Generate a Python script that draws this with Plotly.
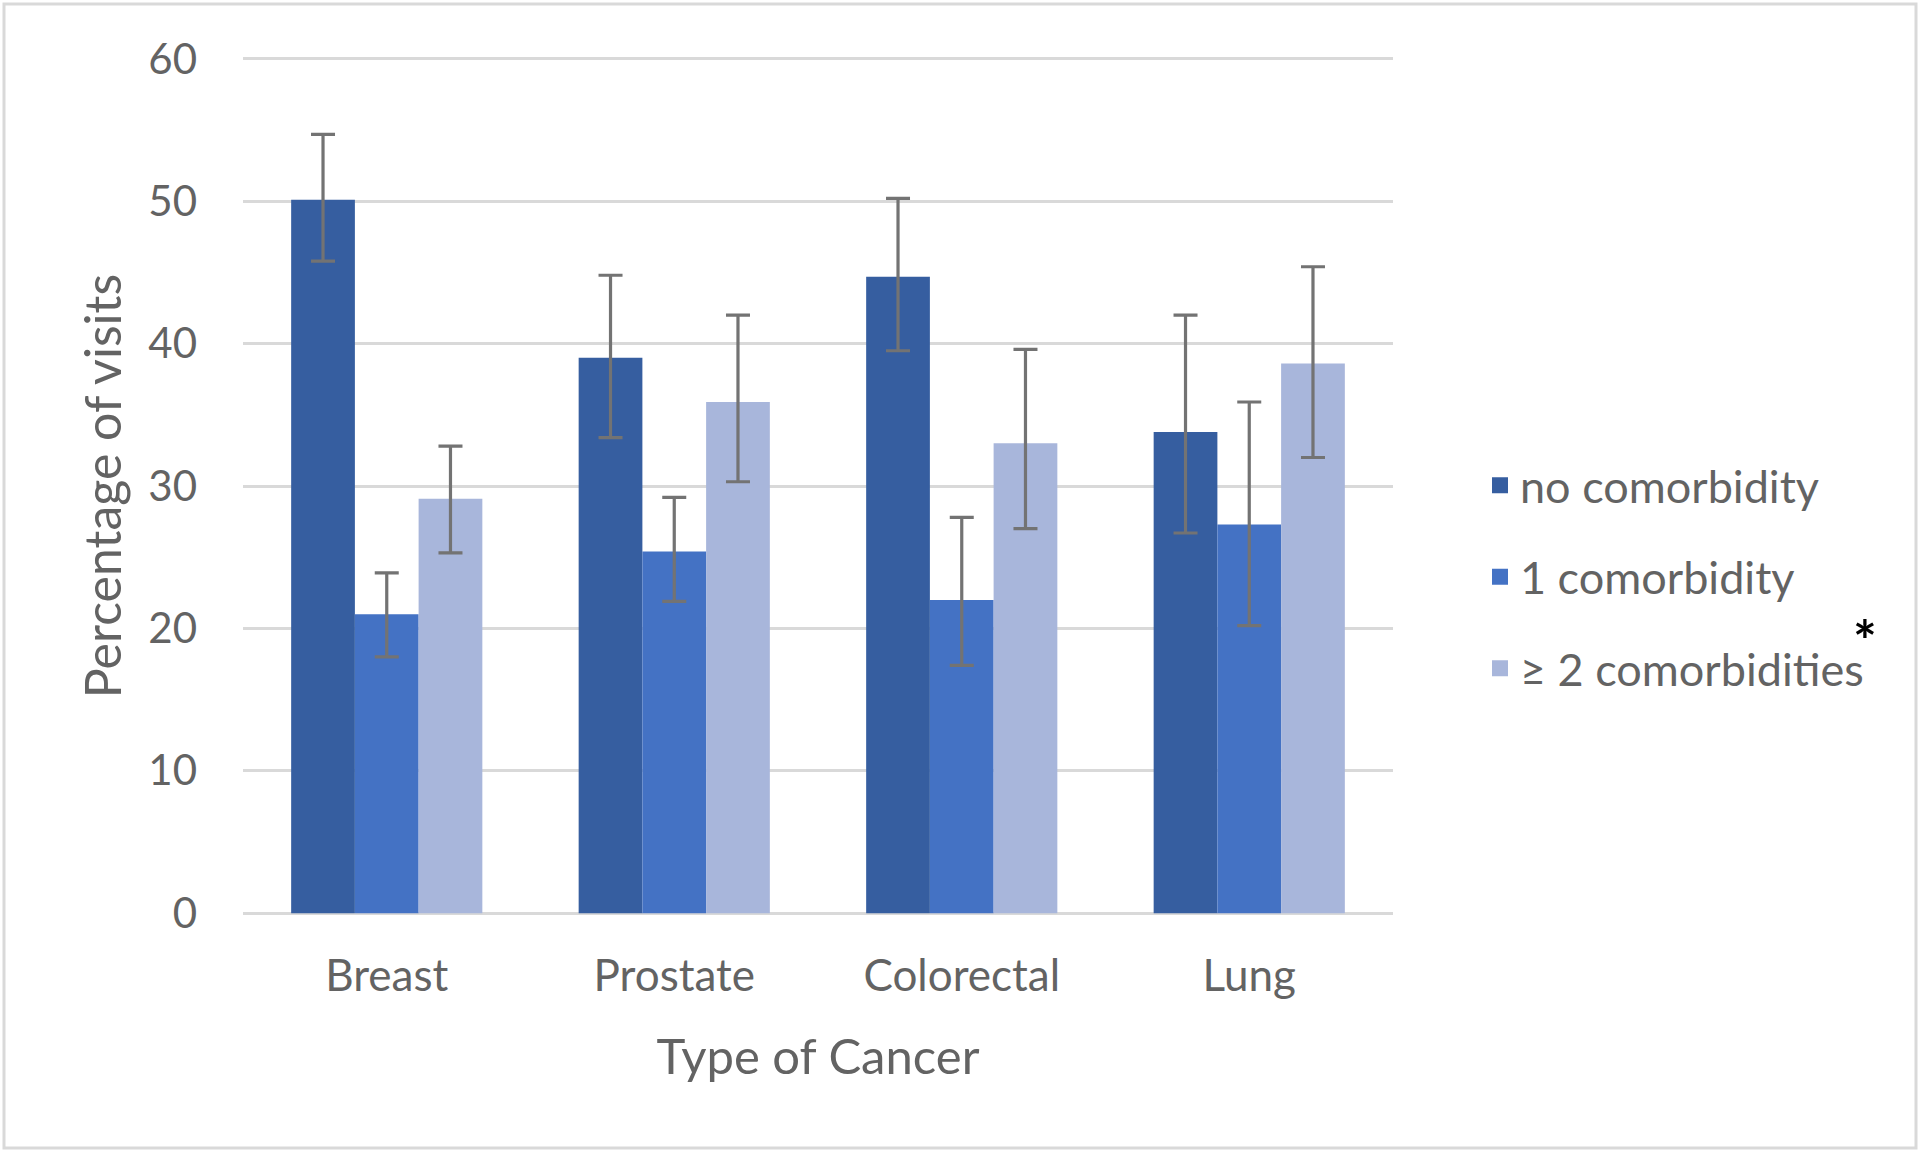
import plotly.graph_objects as go

categories = ["Breast", "Prostate", "Colorectal", "Lung"]
series_names = ["no comorbidity", "1 comorbidity", "≥ 2 comorbidities"]

no_comorb = [50.1, 39.0, 44.7, 33.8]
no_comorb_hi = [54.7, 44.8, 50.2, 42.0]
no_comorb_lo = [45.8, 33.4, 39.5, 26.7]

one_comorb = [21.0, 25.4, 22.0, 27.3]
one_comorb_hi = [23.9, 29.2, 27.8, 35.9]
one_comorb_lo = [18.0, 21.9, 17.4, 20.2]

two_comorb = [29.1, 35.9, 33.0, 38.6]
two_comorb_hi = [32.8, 42.0, 39.6, 45.4]
two_comorb_lo = [25.3, 30.3, 27.0, 32.0]

colors = ["#365EA0", "#4472C4", "#A8B6DB"]
y_ticks = [0, 10, 20, 30, 40, 50, 60]

FONT = "Lato"
TXT = "#636363"

fig = go.Figure()
series = [
    (series_names[0], no_comorb, no_comorb_hi, no_comorb_lo, colors[0]),
    (series_names[1], one_comorb, one_comorb_hi, one_comorb_lo, colors[1]),
    (series_names[2], two_comorb, two_comorb_hi, two_comorb_lo, colors[2]),
]
for i, (name, vals, hi, lo, col) in enumerate(series):
    fig.add_trace(go.Bar(
        x=categories, y=vals, name=name,
        legendgroup=f"g{i}", showlegend=False,
        marker=dict(color=col, line=dict(width=0)),
        error_y=dict(
            type="data", symmetric=False,
            array=[h - v for h, v in zip(hi, vals)],
            arrayminus=[v - l for v, l in zip(vals, lo)],
            color="#737373", thickness=3.2, width=12,
        ),
    ))
    # legend swatch (larger square than the default bar swatch)
    fig.add_trace(go.Scatter(
        x=[None], y=[None], name=name, mode="markers",
        legendgroup=f"g{i}", showlegend=True,
        marker=dict(symbol="square", size=16, color=col),
        hoverinfo="skip",
    ))

W, H = 1920, 1152
L, R, T, B = 243, 527, 56, 236
pw, ph = W - L - R, H - T - B

def px_x(x):
    return (x - L) / pw

def px_y(y):
    return (H - B - y) / ph

fig.update_layout(
    width=W, height=H, autosize=False,
    margin=dict(l=L, r=R, t=T, b=B, pad=0),
    paper_bgcolor="white", plot_bgcolor="white",
    barmode="group", bargap=0.335, bargroupgap=0,
    font=dict(family=FONT, size=42, color=TXT),
    showlegend=True,
    legend=dict(
        x=px_x(1480), y=px_y(577), xanchor="left", yanchor="middle",
        traceorder="grouped", tracegroupgap=30, itemsizing="trace",
        font=dict(family=FONT, size=45, color=TXT),
        bgcolor="rgba(0,0,0,0)",
    ),
    xaxis=dict(
        showgrid=False, showline=False, ticks="",
        tickfont=dict(family=FONT, size=44, color=TXT), ticklabelstandoff=30,
        title=dict(text="Type of Cancer", font=dict(family=FONT, size=49, color=TXT), standoff=40),
    ),
    yaxis=dict(
        range=[-0.2, 60.2], tickvals=y_ticks, showgrid=True, gridcolor="#D9D9D9", gridwidth=3,
        zeroline=False, showline=False, ticks="",
        tickfont=dict(family=FONT, size=42, color=TXT), ticklabelstandoff=45,
        title=dict(text="Percentage of visits", font=dict(family=FONT, size=50, color=TXT), standoff=10),
    ),
    shapes=[dict(
        type="rect", xref="paper", yref="paper",
        x0=px_x(4), x1=px_x(1916), y0=px_y(1148), y1=px_y(4),
        line=dict(color="#D9D9D9", width=3), fillcolor="rgba(0,0,0,0)", layer="below",
    )],
    annotations=[dict(
        x=px_x(1865), y=px_y(604), xref="paper", yref="paper",
        xanchor="center", yanchor="top", height=44, valign="top",
        text="<b>*</b>", showarrow=False, font=dict(family=FONT, size=56, color="black"),
    )],
)

fig.write_html("out.html", config={"displayModeBar": False},
               post_script="document.body.style.margin='0';")
